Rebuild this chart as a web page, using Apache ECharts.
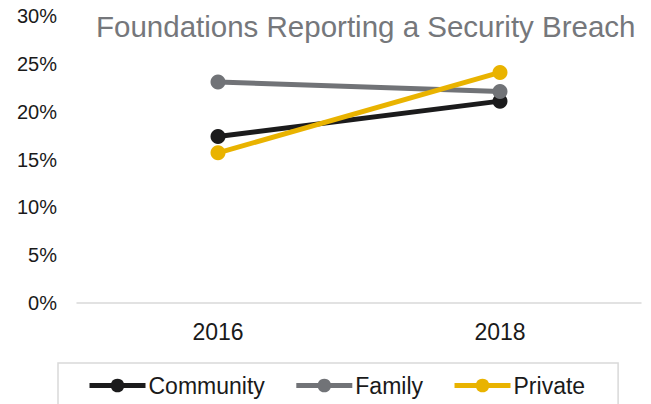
<!DOCTYPE html>
<html>
<head>
<meta charset="utf-8">
<script src="https://cdn.jsdelivr.net/npm/echarts@6/dist/echarts.min.js"></script>
<style>
  html, body { margin: 0; padding: 0; background: #fff; }
  #chart { width: 651px; height: 404px; }
</style>
</head>
<body>
<div id="chart"></div>
<script>
// Chart data
const years = ['2016', '2018'];
const community = [17.4, 21.1];
const family = [23.1, 22.1];
const priv = [15.7, 24.1];
const yTicks = [0, 5, 10, 15, 20, 25, 30];

const fontFamily = '"Liberation Sans", Arial, sans-serif';

function lineSeries(name, data, color) {
  return {
    name: name,
    type: 'line',
    data: data,
    symbol: 'circle',
    symbolSize: 15,
    lineStyle: { width: 5, color: color },
    itemStyle: { color: color },
    emphasis: { disabled: true }
  };
}

const chart = echarts.init(document.getElementById('chart'), null, { renderer: 'svg' });

chart.setOption({
  animation: false,
  title: {
    text: 'Foundations Reporting a Security Breach',
    left: 96,
    top: 11,
    padding: 0,
    textStyle: { fontFamily: fontFamily, fontSize: 29.5, fontWeight: 'normal', color: '#75777b' }
  },
  grid: { left: 77, right: 10, top: 16, bottom: 101, containLabel: false },
  legend: {
    left: 58,
    top: 363,
    padding: [11, 33, 14, 29],
    itemGap: 29,
    itemWidth: 56,
    itemHeight: 17,
    borderColor: '#d9d9d9',
    borderWidth: 1.5,
    lineStyle: { width: 5 },
    textStyle: { fontFamily: fontFamily, fontSize: 23, color: '#1a1a1a', padding: [0, 0, 0, -2] },
    data: ['Community', 'Family', 'Private']
  },
  xAxis: {
    type: 'category',
    data: years,
    boundaryGap: true,
    axisLine: { lineStyle: { color: '#d9d9d9', width: 1.5 } },
    axisTick: { show: false },
    axisLabel: { fontFamily: fontFamily, fontSize: 23, color: '#1a1a1a', margin: 17 }
  },
  yAxis: {
    type: 'value',
    min: yTicks[0],
    max: yTicks[yTicks.length - 1],
    interval: 5,
    axisLine: { show: false },
    axisTick: { show: false },
    splitLine: { show: false },
    axisLabel: {
      fontFamily: fontFamily, fontSize: 20, color: '#1a1a1a', margin: 20,
      formatter: v => v + '%'
    }
  },
  series: [
    lineSeries('Community', community, '#1b1b1c'),
    lineSeries('Family', family, '#717377'),
    lineSeries('Private', priv, '#e9b300')
  ]
});
</script>
</body>
</html>
